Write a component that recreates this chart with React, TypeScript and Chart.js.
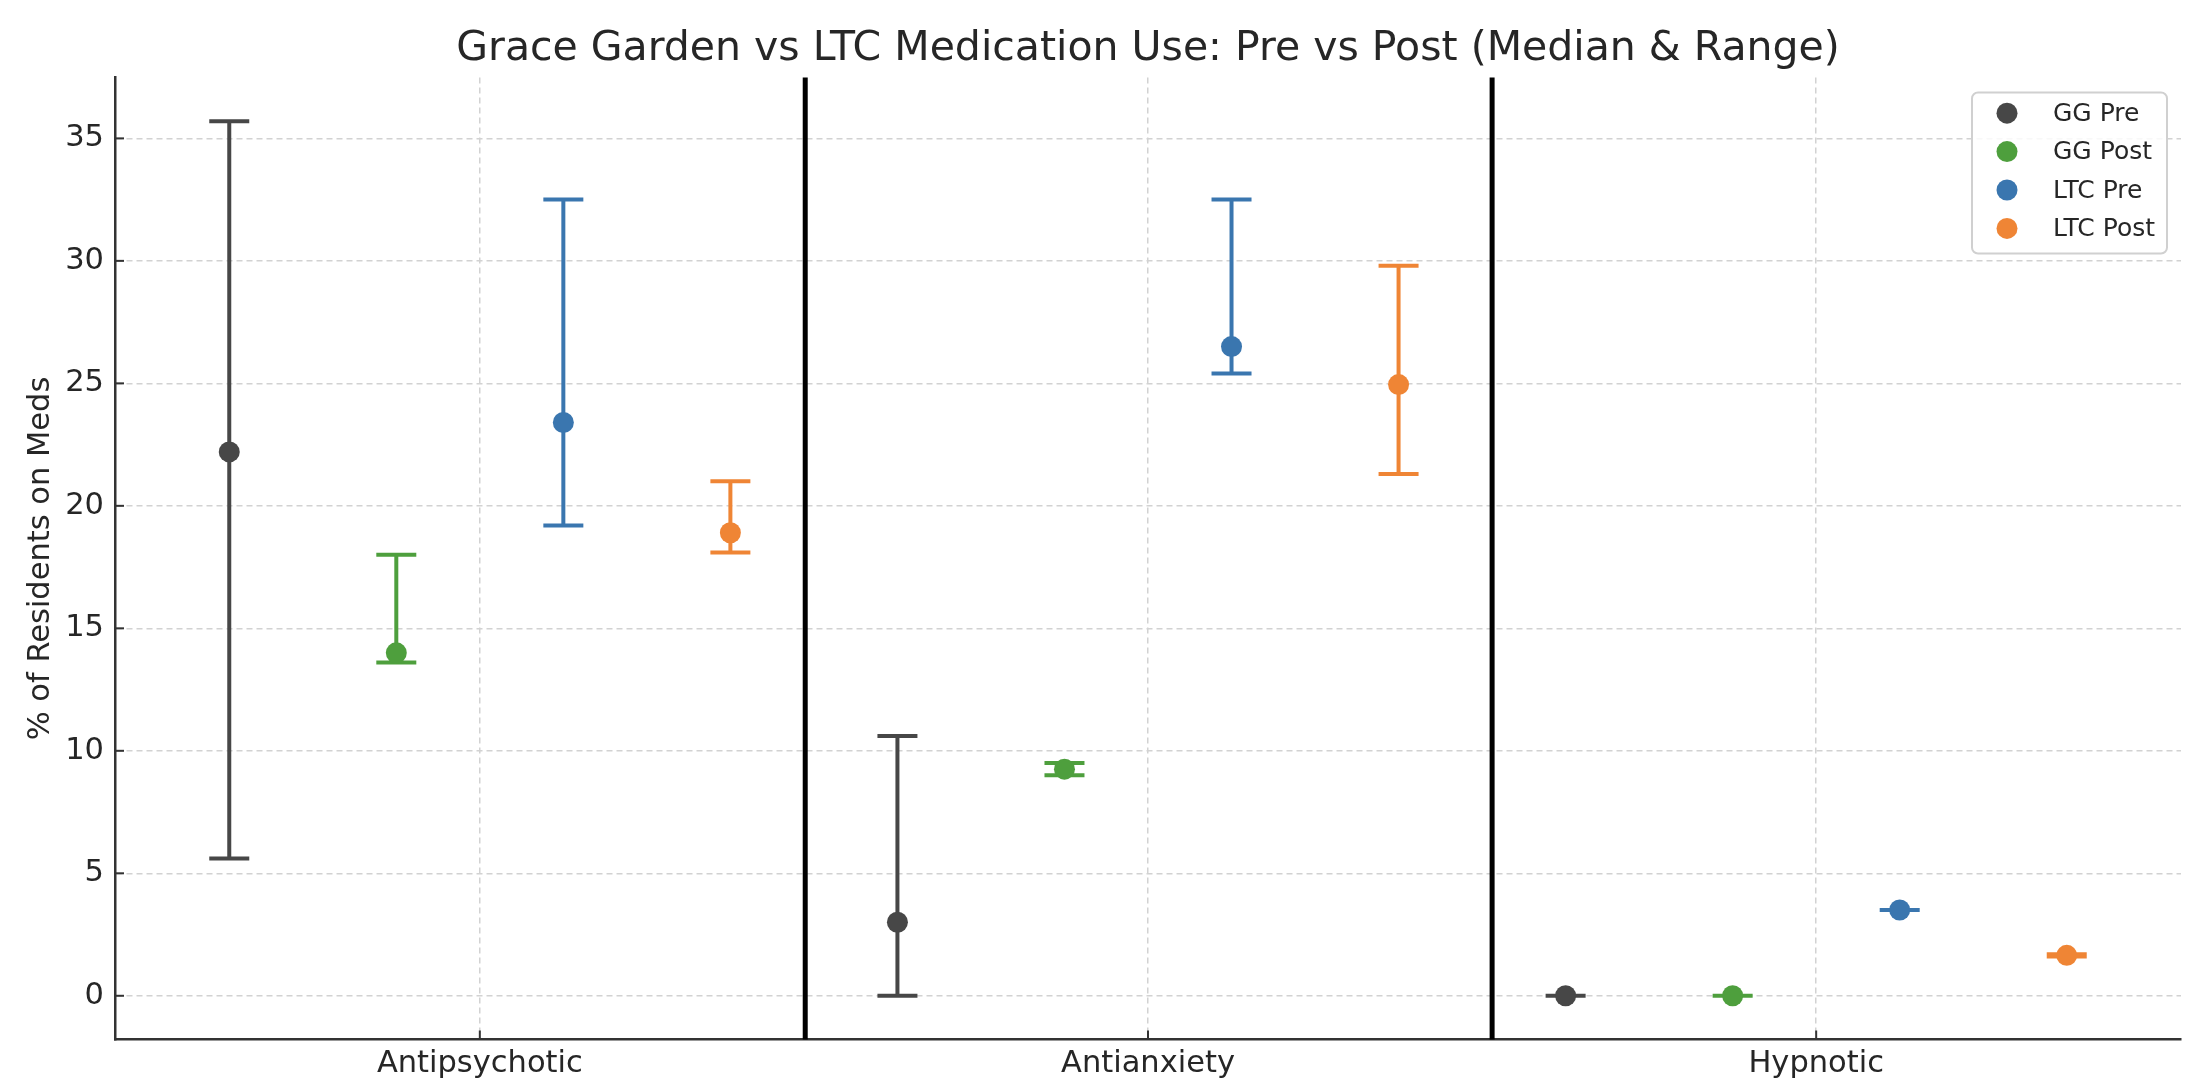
import React, { useEffect, useRef } from 'react';
import { Chart, registerables } from 'chart.js';

Chart.register(...registerables);

// ---------- Data ----------
const categories = ['Antipsychotic', 'Antianxiety', 'Hypnotic'];
const seriesLabels = ['GG Pre', 'GG Post', 'LTC Pre', 'LTC Post'];

const ggPreMedian = [22.2, 3.0, 0];
const ggPreLow = [5.6, 0, 0];
const ggPreHigh = [35.7, 10.6, 0];

const ggPostMedian = [14.0, 9.25, 0];
const ggPostLow = [13.6, 9.0, 0];
const ggPostHigh = [18.0, 9.5, 0];

const ltcPreMedian = [23.4, 26.5, 3.5];
const ltcPreLow = [19.2, 25.4, 3.5];
const ltcPreHigh = [32.5, 32.5, 3.5];

const ltcPostMedian = [18.9, 24.95, 1.65];
const ltcPostLow = [18.1, 21.3, 1.6];
const ltcPostHigh = [21.0, 29.8, 1.7];

const yTickValues = [0, 5, 10, 15, 20, 25, 30, 35];
const dividerPositions = [0.487, 1.515];
const seriesOffsets = [-0.375, -0.125, 0.125, 0.375];
const seriesColors = ['#474747', '#4e9f3d', '#3a76af', '#ef8535'];

const titleText = 'Grace Garden vs LTC Medication Use: Pre vs Post (Median & Range)';
const yAxisTitle = '% of Residents on Meds';

const series = [
  { median: ggPreMedian, low: ggPreLow, high: ggPreHigh },
  { median: ggPostMedian, low: ggPostLow, high: ggPostHigh },
  { median: ltcPreMedian, low: ltcPreLow, high: ltcPreHigh },
  { median: ltcPostMedian, low: ltcPostLow, high: ltcPostHigh },
];

const FONT = 'DejaVu Sans';
const TEXT = '#262626';
const SPINE = '#333333';

// ---------- Plugins ----------
const errorBarPlugin = {
  id: 'errorBars',
  beforeDatasetsDraw(chart: any) {
    const { ctx, chartArea } = chart;
    const xs = chart.scales.x;
    const ys = chart.scales.y;
    ctx.save();
    // category dividers
    ctx.strokeStyle = '#000000';
    ctx.lineWidth = 5;
    dividerPositions.forEach((p) => {
      const px = xs.getPixelForValue(p);
      ctx.beginPath();
      ctx.moveTo(px, chartArea.top);
      ctx.lineTo(px, chartArea.bottom);
      ctx.stroke();
    });
    // error bars
    const cap = 20;
    series.forEach((s, i) => {
      ctx.strokeStyle = seriesColors[i];
      ctx.lineWidth = 4;
      ctx.lineCap = 'butt';
      s.median.forEach((_, j) => {
        const px = xs.getPixelForValue(j + seriesOffsets[i]);
        const pLow = ys.getPixelForValue(s.low[j]);
        const pHigh = ys.getPixelForValue(s.high[j]);
        ctx.beginPath();
        ctx.moveTo(px, pLow);
        ctx.lineTo(px, pHigh);
        ctx.moveTo(px - cap, pLow);
        ctx.lineTo(px + cap, pLow);
        ctx.moveTo(px - cap, pHigh);
        ctx.lineTo(px + cap, pHigh);
        ctx.stroke();
      });
    });
    ctx.restore();
  },
};

const inwardTicksPlugin = {
  id: 'inwardTicks',
  afterDatasetsDraw(chart: any) {
    const { ctx, chartArea } = chart;
    const xs = chart.scales.x;
    const ys = chart.scales.y;
    ctx.save();
    ctx.strokeStyle = SPINE;
    ctx.lineWidth = 2;
    const len = 9;
    yTickValues.forEach((v) => {
      const py = ys.getPixelForValue(v);
      ctx.beginPath();
      ctx.moveTo(chartArea.left, py);
      ctx.lineTo(chartArea.left + len, py);
      ctx.stroke();
    });
    categories.forEach((_, i) => {
      const px = xs.getPixelForValue(i);
      ctx.beginPath();
      ctx.moveTo(px, chartArea.bottom);
      ctx.lineTo(px, chartArea.bottom - len);
      ctx.stroke();
    });
    ctx.restore();
  },
};

const boxLegendPlugin = {
  id: 'boxLegend',
  afterDraw(chart: any) {
    const { ctx, chartArea } = chart;
    const boxW = 195;
    const boxH = 161;
    const right = chartArea.right - 14;
    const top = chartArea.top + 15;
    const left = right - boxW;
    ctx.save();
    ctx.fillStyle = 'rgba(255,255,255,0.85)';
    ctx.strokeStyle = '#d0d0d0';
    ctx.lineWidth = 2;
    ctx.beginPath();
    (ctx as any).roundRect(left, top, boxW, boxH, 6);
    ctx.fill();
    ctx.stroke();
    ctx.font = `25px "${FONT}"`;
    ctx.textBaseline = 'middle';
    ctx.textAlign = 'left';
    seriesLabels.forEach((label, i) => {
      const cy = top + 20.7 + i * 38.4;
      ctx.fillStyle = seriesColors[i];
      ctx.beginPath();
      ctx.arc(left + 35, cy, 10.5, 0, Math.PI * 2);
      ctx.fill();
      ctx.fillStyle = TEXT;
      ctx.fillText(label, left + 81, cy + 1);
    });
    ctx.restore();
  },
};

export default function App() {
  const canvasRef = useRef<HTMLCanvasElement | null>(null);

  useEffect(() => {
    document.body.style.margin = '0';
    const canvas = canvasRef.current;
    if (!canvas) return;
    const tickFont = { family: FONT, size: 30.5 };
    const gridOpts = { color: '#d2d2d2', lineWidth: 1.5, drawTicks: false };
    const borderOpts = { display: true, color: SPINE, width: 2.5, dash: [6, 4] };

    const chart = new Chart(canvas, {
      type: 'scatter',
      data: {
        datasets: series.map((s, i) => ({
          label: seriesLabels[i],
          data: s.median.map((m, j) => ({ x: j + seriesOffsets[i], y: m })),
          backgroundColor: seriesColors[i],
          borderColor: seriesColors[i],
          pointRadius: 10.5,
          pointHoverRadius: 10.5,
          borderWidth: 0,
          showLine: false,
        })),
      },
      options: {
        responsive: false,
        devicePixelRatio: 1,
        animation: false,
        events: [],
        layout: { padding: { left: 0, right: 17, top: 0, bottom: 0 } },
        plugins: {
          legend: { display: false },
          tooltip: { enabled: false },
          title: {
            display: true,
            fullSize: false,
            text: titleText,
            color: TEXT,
            font: { family: FONT, size: 41, weight: 'normal' as any },
            padding: { top: 25, bottom: 3.3 },
          },
        },
        scales: {
          x: {
            type: 'linear',
            min: -0.546,
            max: 2.546,
            afterBuildTicks: (s: any) => {
              s.ticks = categories.map((_, i) => ({ value: i }));
            },
            ticks: {
              callback: (v: any) => categories[v as number] ?? '',
              font: tickFont,
              color: TEXT,
              padding: 6,
              autoSkip: false,
              maxRotation: 0,
            },
            grid: gridOpts,
            border: borderOpts,
            afterFit: (s: any) => {
              s.height = 50.5;
            },
          },
          y: {
            type: 'linear',
            min: -1.785,
            max: 37.485,
            afterBuildTicks: (s: any) => {
              s.ticks = yTickValues.map((v) => ({ value: v }));
            },
            ticks: { font: tickFont, color: TEXT, padding: 11 },
            grid: gridOpts,
            border: borderOpts,
            title: {
              display: true,
              text: yAxisTitle,
              color: TEXT,
              font: tickFont,
              padding: { top: 23, bottom: 0 },
            },
            afterFit: (s: any) => {
              s.width = 115;
            },
          },
        },
      } as any,
      plugins: [errorBarPlugin, inwardTicksPlugin, boxLegendPlugin],
    });

    return () => chart.destroy();
  }, []);

  return (
    <canvas
      ref={canvasRef}
      width={2198}
      height={1090}
      style={{ display: 'block', width: 2198, height: 1090 }}
    />
  );
}
